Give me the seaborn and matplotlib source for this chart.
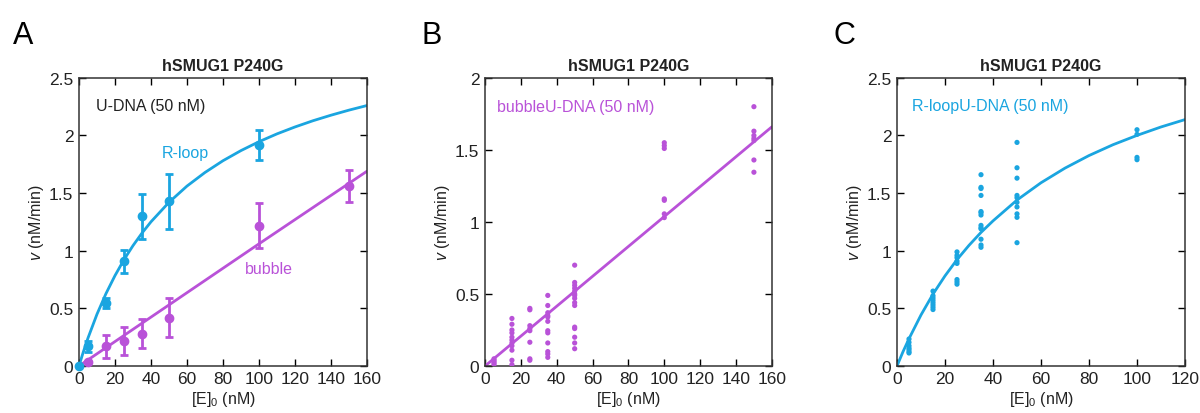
import numpy as np
import pandas as pd
import matplotlib
matplotlib.use("Agg")
import matplotlib.pyplot as plt
import seaborn as sns
from matplotlib.ticker import FuncFormatter

sns.set_style("ticks")
plt.rcParams['font.family'] = ['Liberation Sans', 'DejaVu Sans']
plt.rcParams['mathtext.fontset'] = 'custom'
plt.rcParams['mathtext.rm'] = 'Liberation Sans'
plt.rcParams['mathtext.it'] = 'Liberation Sans:italic'

CYAN = "#1AA5E0"
PURPLE = "#B952D8"
TXT = "#222222"

# Panel A: mean +/- error
rloop_x = [0, 5, 15, 25, 35, 50, 100]
rloop_y = [0.0, 0.17, 0.545, 0.91, 1.30, 1.43, 1.915]
rloop_err = [0.0, 0.045, 0.045, 0.10, 0.195, 0.24, 0.13]

bubble_x = [5, 15, 25, 35, 50, 100, 150]
bubble_y = [0.035, 0.17, 0.215, 0.28, 0.42, 1.215, 1.56]
bubble_err = [0.0, 0.097, 0.123, 0.126, 0.167, 0.195, 0.14]

# fitted curves
rfit_x = [0, 2.5, 5, 10, 15, 20, 25, 30, 35, 40, 50, 60, 70, 80, 90, 100, 110, 120, 130, 140, 150, 160]
rfit_y = [0, 0.126, 0.242, 0.449, 0.628, 0.784, 0.922, 1.044, 1.153, 1.251, 1.420, 1.561, 1.679,
          1.781, 1.869, 1.946, 2.014, 2.074, 2.128, 2.176, 2.220, 2.260]
bfit_x = [0, 50, 100, 160]
bfit_y = [0, 0.53, 1.06, 1.69]

# Panel B: individual bubble measurements
b_pts = {
    5: [0.05, 0.04, 0.03, 0.02, 0.01],
    15: [0.33, 0.29, 0.25, 0.23, 0.20, 0.18, 0.16, 0.14, 0.11, 0.04, 0.01],
    25: [0.40, 0.39, 0.28, 0.26, 0.245, 0.165, 0.05, 0.04],
    35: [0.49, 0.42, 0.37, 0.35, 0.34, 0.31, 0.245, 0.23, 0.16, 0.10, 0.083, 0.06],
    50: [0.70, 0.58, 0.56, 0.54, 0.52, 0.50, 0.49, 0.47, 0.44, 0.42, 0.27, 0.26, 0.20, 0.16, 0.12],
    100: [1.55, 1.53, 1.51, 1.16, 1.15, 1.056, 1.03],
    150: [1.80, 1.63, 1.60, 1.58, 1.565, 1.43, 1.345],
}
bline_x = [0, 160]
bline_y = [0, 1.66]

# Panel C: individual R-loop measurements
c_pts = {
    5: [0.234, 0.205, 0.176, 0.156, 0.142, 0.124, 0.113],
    15: [0.65, 0.61, 0.59, 0.57, 0.55, 0.53, 0.51, 0.49],
    25: [0.99, 0.96, 0.94, 0.91, 0.89, 0.75, 0.73, 0.71],
    35: [1.66, 1.55, 1.54, 1.48, 1.34, 1.33, 1.31, 1.22, 1.20, 1.19, 1.10, 1.05, 1.03],
    50: [1.94, 1.72, 1.63, 1.48, 1.46, 1.42, 1.38, 1.32, 1.29, 1.07],
    100: [2.05, 2.01, 1.81, 1.79],
}
cfit_x = [0, 2.5, 5, 10, 15, 20, 25, 30, 35, 40, 50, 60, 70, 80, 90, 100, 110, 120]
cfit_y = [0, 0.124, 0.237, 0.443, 0.624, 0.782, 0.923, 1.047, 1.159, 1.259, 1.440, 1.590,
          1.717, 1.826, 1.920, 2.001, 2.074, 2.138]


def to_df(pts):
    rows = [(x, v) for x, vals in pts.items() for v in vals]
    return pd.DataFrame(rows, columns=["x", "v"])


fig = plt.figure(figsize=(12, 4.14), dpi=100)
axA = fig.add_axes([0.0658, 0.1135, 0.240, 0.696])
axB = fig.add_axes([0.4042, 0.1135, 0.239, 0.696])
axC = fig.add_axes([0.7475, 0.1135, 0.240, 0.696])

fmt = FuncFormatter(lambda v, p: "{:g}".format(v))
FS = 11.5


def style(ax, xmax, ymax, ystep):
    ax.set_xlim(0, xmax)
    ax.set_ylim(0, ymax)
    ax.set_xticks(np.arange(0, xmax + 1, 20))
    ax.set_yticks(np.arange(0, ymax + 0.01, ystep))
    ax.xaxis.set_major_formatter(fmt)
    ax.yaxis.set_major_formatter(fmt)
    ax.tick_params(direction="in", top=True, right=True, length=5, width=1,
                   labelsize=12.5, colors="black", labelcolor=TXT)
    ax.tick_params(axis="x", pad=3.5)
    ax.tick_params(axis="y", pad=4)
    for s in ax.spines.values():
        s.set_visible(True)
        s.set_linewidth(1.1)
        s.set_color("#333333")
    ax.set_xlabel("[E]$_0$ (nM)", fontsize=FS, color=TXT, labelpad=2)
    ax.set_ylabel(r"$\mathit{v}$ (nM/min)", fontsize=FS, color=TXT, labelpad=2)
    ax.set_title("hSMUG1 P240G", fontsize=FS, fontweight="bold", color=TXT, pad=6)


# ---- A
sns.lineplot(x=rfit_x, y=rfit_y, ax=axA, color=CYAN, lw=2)
sns.lineplot(x=bfit_x, y=bfit_y, ax=axA, color=PURPLE, lw=2)
axA.errorbar(rloop_x, rloop_y, yerr=rloop_err, fmt="o", color=CYAN, ms=6,
             elinewidth=2, capsize=3, capthick=2, clip_on=False, zorder=3)
axA.errorbar(bubble_x, bubble_y, yerr=bubble_err, fmt="o", color=PURPLE, ms=6,
             elinewidth=2, capsize=3, capthick=2, clip_on=False, zorder=3)
style(axA, 160, 2.5, 0.5)
axA.text(9.4, 2.26, "U-DNA (50 nM)", fontsize=FS, color=TXT, va="center")
axA.text(59, 1.85, "R-loop", fontsize=FS, color=CYAN, ha="center", va="center")
axA.text(105.5, 0.85, "bubble", fontsize=FS, color=PURPLE, ha="center", va="center")

# ---- B
sns.lineplot(x=bline_x, y=bline_y, ax=axB, color=PURPLE, lw=2)
dB = to_df(b_pts)
sns.scatterplot(data=dB, x="x", y="v", ax=axB, color=PURPLE, s=14, edgecolor="none", zorder=3)
style(axB, 160, 2.0, 0.5)
axB.text(6.7, 1.80, "bubbleU-DNA (50 nM)", fontsize=FS, color=PURPLE, va="center")

# ---- C
sns.lineplot(x=cfit_x, y=cfit_y, ax=axC, color=CYAN, lw=2)
dC = to_df(c_pts)
sns.scatterplot(data=dC, x="x", y="v", ax=axC, color=CYAN, s=14, edgecolor="none", zorder=3)
style(axC, 120, 2.5, 0.5)
axC.text(6.25, 2.26, "R-loopU-DNA (50 nM)", fontsize=FS, color=CYAN, va="center")

# panel letters
fig.text(0.011, 0.893, "A", fontsize=22, color="black")
fig.text(0.351, 0.893, "B", fontsize=22, color="black")
fig.text(0.695, 0.893, "C", fontsize=22, color="black")

fig.savefig("out.png", dpi=100)
